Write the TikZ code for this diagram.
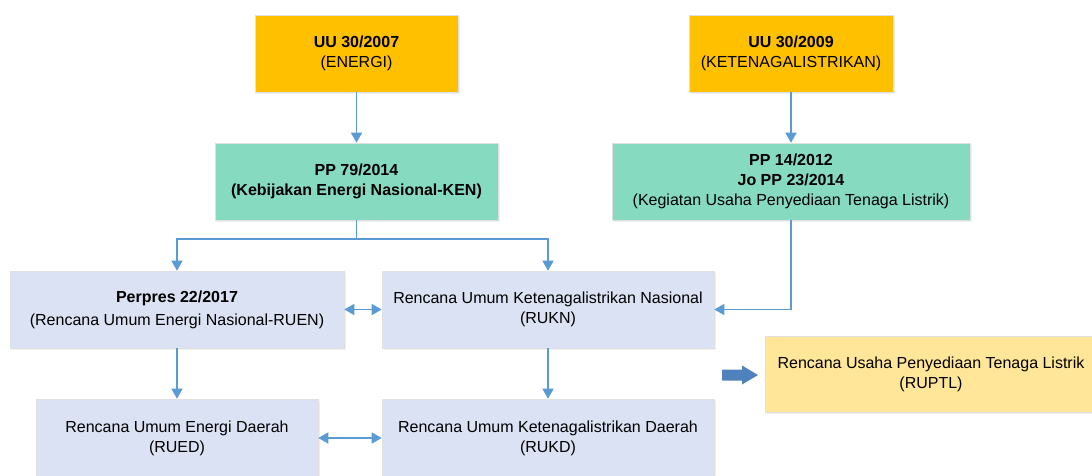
\documentclass[tikz,border=0pt]{standalone}
\usepackage{fontspec}
\setmainfont{Liberation Sans}
\usetikzlibrary{arrows.meta,shadows}
\definecolor{cyel}{HTML}{FFC000}
\definecolor{cgrn}{HTML}{86DAC0}
\definecolor{cblu}{HTML}{DAE2F3}
\definecolor{cpal}{HTML}{FFE699}
\definecolor{cline}{HTML}{5B9BD5}
\definecolor{cblock}{HTML}{4F81BD}
\tikzset{
  box/.style={rectangle, draw=black!12, line width=0.6pt, align=center, inner sep=2pt,
    font=\fontsize{16}{20}\selectfont,
    drop shadow={opacity=0.12, shadow xshift=1.5pt, shadow yshift=-1.5pt}},
  conn/.style={draw=cline, line width=1.5pt, -{Triangle[length=10pt,width=11pt]}},
  dconn/.style={draw=cline, line width=1.5pt, {Triangle[length=10pt,width=11pt]}-{Triangle[length=10pt,width=11pt]}},
  plain/.style={draw=cline, line width=1.5pt}
}
\begin{document}
\begin{tikzpicture}[x=1pt,y=-1pt]
\clip (0,0) rectangle (1092,475);
\fill[white] (0,0) rectangle (1092,475);
% top
\node[box, fill=cyel, minimum width=203pt, minimum height=77pt] (uu1) at (356.5,53.5) {\textbf{UU 30/2007}\\(ENERGI)};
\node[box, fill=cyel, minimum width=204pt, minimum height=77pt] (uu2) at (791,53.5) {\textbf{UU 30/2009}\\(KETENAGALISTRIKAN)};
% second row
\node[box, fill=cgrn, minimum width=283pt, minimum height=77pt] (pp79) at (356.5,181.5) {\textbf{PP 79/2014}\\\textbf{(Kebijakan Energi Nasional-KEN)}};
\node[box, fill=cgrn, minimum width=358pt, minimum height=77pt] (pp14) at (791,181.5) {\textbf{PP 14/2012}\\\textbf{Jo PP 23/2014}\\(Kegiatan Usaha Penyediaan Tenaga Listrik)};
% third row
\node[box, fill=cblu, minimum width=334pt, minimum height=77pt] (perpres) at (177,309.5) {\textbf{Perpres 22/2017}\\[3pt](Rencana Umum Energi Nasional-RUEN)};
\node[box, fill=cblu, minimum width=332pt, minimum height=77pt] (rukn) at (548,309.5) {Rencana Umum Ketenagalistrikan Nasional\\(RUKN)};
% fourth row
\node[box, fill=cblu, minimum width=282pt, minimum height=78pt] (rued) at (177,438) {Rencana Umum Energi Daerah\\(RUED)};
\node[box, fill=cblu, minimum width=332pt, minimum height=78pt] (rukd) at (548,438) {Rencana Umum Ketenagalistrikan Daerah\\(RUKD)};
% RUPTL
\node[box, fill=cpal, minimum width=332pt, minimum height=76pt] (ruptl) at (931,374) {Rencana Usaha Penyediaan Tenaga Listrik\\(RUPTL)};
% connectors
\draw[conn] (uu1) -- (pp79);
\draw[conn] (uu2) -- (pp14);
\coordinate (br) at (356.5,239);
\draw[plain] (pp79.south) -- (br);
\draw[conn] (br) -| (perpres.north);
\draw[conn] (br) -| (rukn.north);
\draw[dconn] (perpres.east) -- (rukn.west);
\draw[conn] (pp14.south) |- (rukn.east);
\draw[conn] (perpres) -- (rued);
\draw[conn] (rukn) -- (rukd);
\draw[dconn] (rued.east) -- (rukd.west);
% block arrow
\fill[cblock] (722,369.5) -- (742,369.5) -- (742,365.5) -- (758,375) -- (742,384.5) -- (742,380.5) -- (722,380.5) -- cycle;
\end{tikzpicture}
\end{document}
